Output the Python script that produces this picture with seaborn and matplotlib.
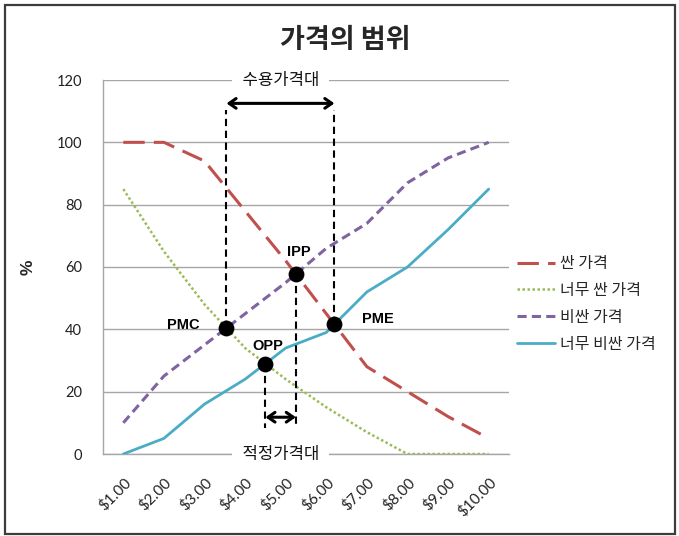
import numpy as np
import pandas as pd
import matplotlib
matplotlib.use("Agg")
import matplotlib.pyplot as plt
import seaborn as sns
from matplotlib.patches import Rectangle

# ---- data -------------------------------------------------------------
prices = ["$1.00", "$2.00", "$3.00", "$4.00", "$5.00",
          "$6.00", "$7.00", "$8.00", "$9.00", "$10.00"]
cheap = [100, 100, 94, 78, 62, 45, 28, 20, 12, 5]
too_cheap = [85, 65, 48, 34, 24, 15, 7, 0, 0, 0]
expensive = [10, 25, 35, 45, 55, 66, 74, 87, 95, 100]
too_expensive = [0, 5, 16, 24, 34, 39, 52, 60, 72, 85]

series_names = ["싼 가격", "너무 싼 가격", "비싼 가격", "너무 비싼 가격"]
series_colors = ["#C0504D", "#9BBB59", "#8064A2", "#4BACC6"]
y_ticks = [0, 20, 40, 60, 80, 100, 120]

title_text = "가격의 범위"
y_label = "%"
acceptable_label = "수용가격대"
optimal_label = "적정가격대"

# ---- styling ----------------------------------------------------------
sns.set_style("white")
plt.rcParams["font.family"] = ["Noto Sans CJK KR", "DejaVu Sans"]
plt.rcParams["axes.unicode_minus"] = False

rows = []
for name, vals in zip(series_names, [cheap, too_cheap, expensive, too_expensive]):
    for i, v in enumerate(vals):
        rows.append({"pos": i, "price": prices[i], "pct": v, "series": name})
df = pd.DataFrame(rows)

fig = plt.figure(figsize=(6.79, 5.36), dpi=100)
ax = fig.add_axes([103 / 679, 1 - 454 / 536, 406 / 679, 374 / 536])

dash_map = {
    series_names[0]: (7, 3),
    series_names[1]: (1, 1),
    series_names[2]: (3, 1.7),
    series_names[3]: "",
}
sns.lineplot(data=df, x="pos", y="pct", hue="series", style="series",
             hue_order=series_names, style_order=series_names,
             palette=dict(zip(series_names, series_colors)),
             dashes=dash_map, linewidth=2.2, sort=False, legend=False,
             ax=ax, zorder=3)

series_lines = ax.lines[:4]
series_lines[1].set_linewidth(1.8)
series_lines[3].set_linewidth(2.0)


def crossing(a, b):
    """Linear interpolation of where series a and b cross."""
    a = np.asarray(a, float)
    b = np.asarray(b, float)
    d = a - b
    for i in range(len(d) - 1):
        if d[i] == 0:
            return float(i), a[i]
        if d[i] * d[i + 1] < 0:
            t = d[i] / (d[i] - d[i + 1])
            return i + t, a[i] + t * (a[i + 1] - a[i])
    return None


pmc = crossing(too_cheap, expensive)
opp = crossing(too_cheap, too_expensive)
ipp = crossing(cheap, expensive)
pme = crossing(cheap, too_expensive)

# guide lines
top_y, arrow_top = 110.5, 112.5
bottom_y, arrow_bottom = 8.5, 11.8
dash_style = dict(color="black", lw=1.5, ls=(0, (3.5, 2.2)), zorder=4)
for px, py in (pmc, pme):
    ax.plot([px, px], [py, top_y], **dash_style)
for px, py in (opp, ipp):
    ax.plot([px, px], [py, bottom_y], **dash_style)

arrow_props = dict(arrowstyle="<->,head_length=0.5,head_width=0.35",
                   lw=2.2, color="black", shrinkA=0, shrinkB=0)
ax.annotate("", xy=(pmc[0], arrow_top), xytext=(pme[0], arrow_top),
            arrowprops=arrow_props, zorder=5)
ax.annotate("", xy=(opp[0], arrow_bottom), xytext=(ipp[0], arrow_bottom),
            arrowprops=arrow_props, zorder=5)

# key price points
pts = pd.DataFrame({"x": [pmc[0], opp[0], ipp[0], pme[0]],
                    "y": [pmc[1], opp[1], ipp[1], pme[1]]})
sns.scatterplot(data=pts, x="x", y="y", color="black", s=130,
                linewidth=0, ax=ax, zorder=6)

lab_kw = dict(textcoords="offset points", fontsize=10.5, fontweight="bold",
              family=["Liberation Sans", "DejaVu Sans"], color="black",
              va="center", zorder=7)
ax.annotate("PMC", xy=pmc, xytext=(-19, 2), ha="right", **lab_kw)
ax.annotate("PME", xy=pme, xytext=(20, 3.5), ha="left", **lab_kw)
ax.annotate("OPP", xy=opp, xytext=(1.5, 12.5), ha="center", **lab_kw)
ax.annotate("IPP", xy=ipp, xytext=(2, 15.5), ha="center", **lab_kw)

# range captions sitting on the top gridline and on the axis line
ax.text((pmc[0] + pme[0]) / 2, 120, "  " + acceptable_label + "  ",
        ha="center", va="center", fontsize=12, color="#111111",
        bbox=dict(boxstyle="square,pad=0.15", fc="white", ec="none"),
        clip_on=False, zorder=8)
ax.text((opp[0] + ipp[0]) / 2, 0, "  " + optimal_label + "  ",
        ha="center", va="center", fontsize=12, color="#111111",
        bbox=dict(boxstyle="square,pad=0.15", fc="white", ec="none"),
        clip_on=False, zorder=8)

# axes
ax.set_xlim(-0.5, len(prices) - 0.5)
ax.set_ylim(0, 120)
ax.set_yticks(y_ticks)
ax.set_xticks(range(len(prices)))
ax.set_xticklabels(prices, rotation=45, ha="right", va="top",
                   rotation_mode="anchor")
ax.tick_params(axis="x", length=0, pad=15, labelsize=11, labelcolor="#222222")
ax.tick_params(axis="y", length=3, color="#a6a6a6", pad=12, labelsize=10.5,
               labelcolor="#222222")
for lbl in ax.get_xticklabels() + ax.get_yticklabels():
    lbl.set_family(["Lato", "DejaVu Sans"])

ax.grid(axis="y", color="#a6a6a6", lw=1)
ax.grid(axis="x", visible=False)
ax.set_axisbelow(True)
for side in ("top", "right"):
    ax.spines[side].set_visible(False)
for side in ("left", "bottom"):
    ax.spines[side].set_color("#a6a6a6")
    ax.spines[side].set_linewidth(1)

ax.set_xlabel("")
ax.set_ylabel(y_label, fontsize=12.5, fontweight="bold",
              family=["Liberation Sans", "DejaVu Sans"])
ax.yaxis.set_label_coords((36 - 103) / 406, 0.5)

# legend to the right of the plot
ax.legend(series_lines, series_names, loc="center left",
          bbox_to_anchor=(517 / 679, 1 - 304 / 536),
          bbox_transform=fig.transFigure, frameon=False, fontsize=11.5,
          handlelength=2.4, handletextpad=0.3, labelspacing=0.62,
          borderpad=0, borderaxespad=0)

fig.text(345 / 679, 1 - 40 / 536, title_text, ha="center", va="center",
         fontsize=19.5, fontweight="bold")

# outer frame
fig.patches.append(Rectangle((5 / 679, 2 / 536), 670 / 679, 529 / 536,
                             transform=fig.transFigure, fill=False,
                             ec="#3c3c3c", lw=1.6))

fig.savefig("out.png", dpi=100)
